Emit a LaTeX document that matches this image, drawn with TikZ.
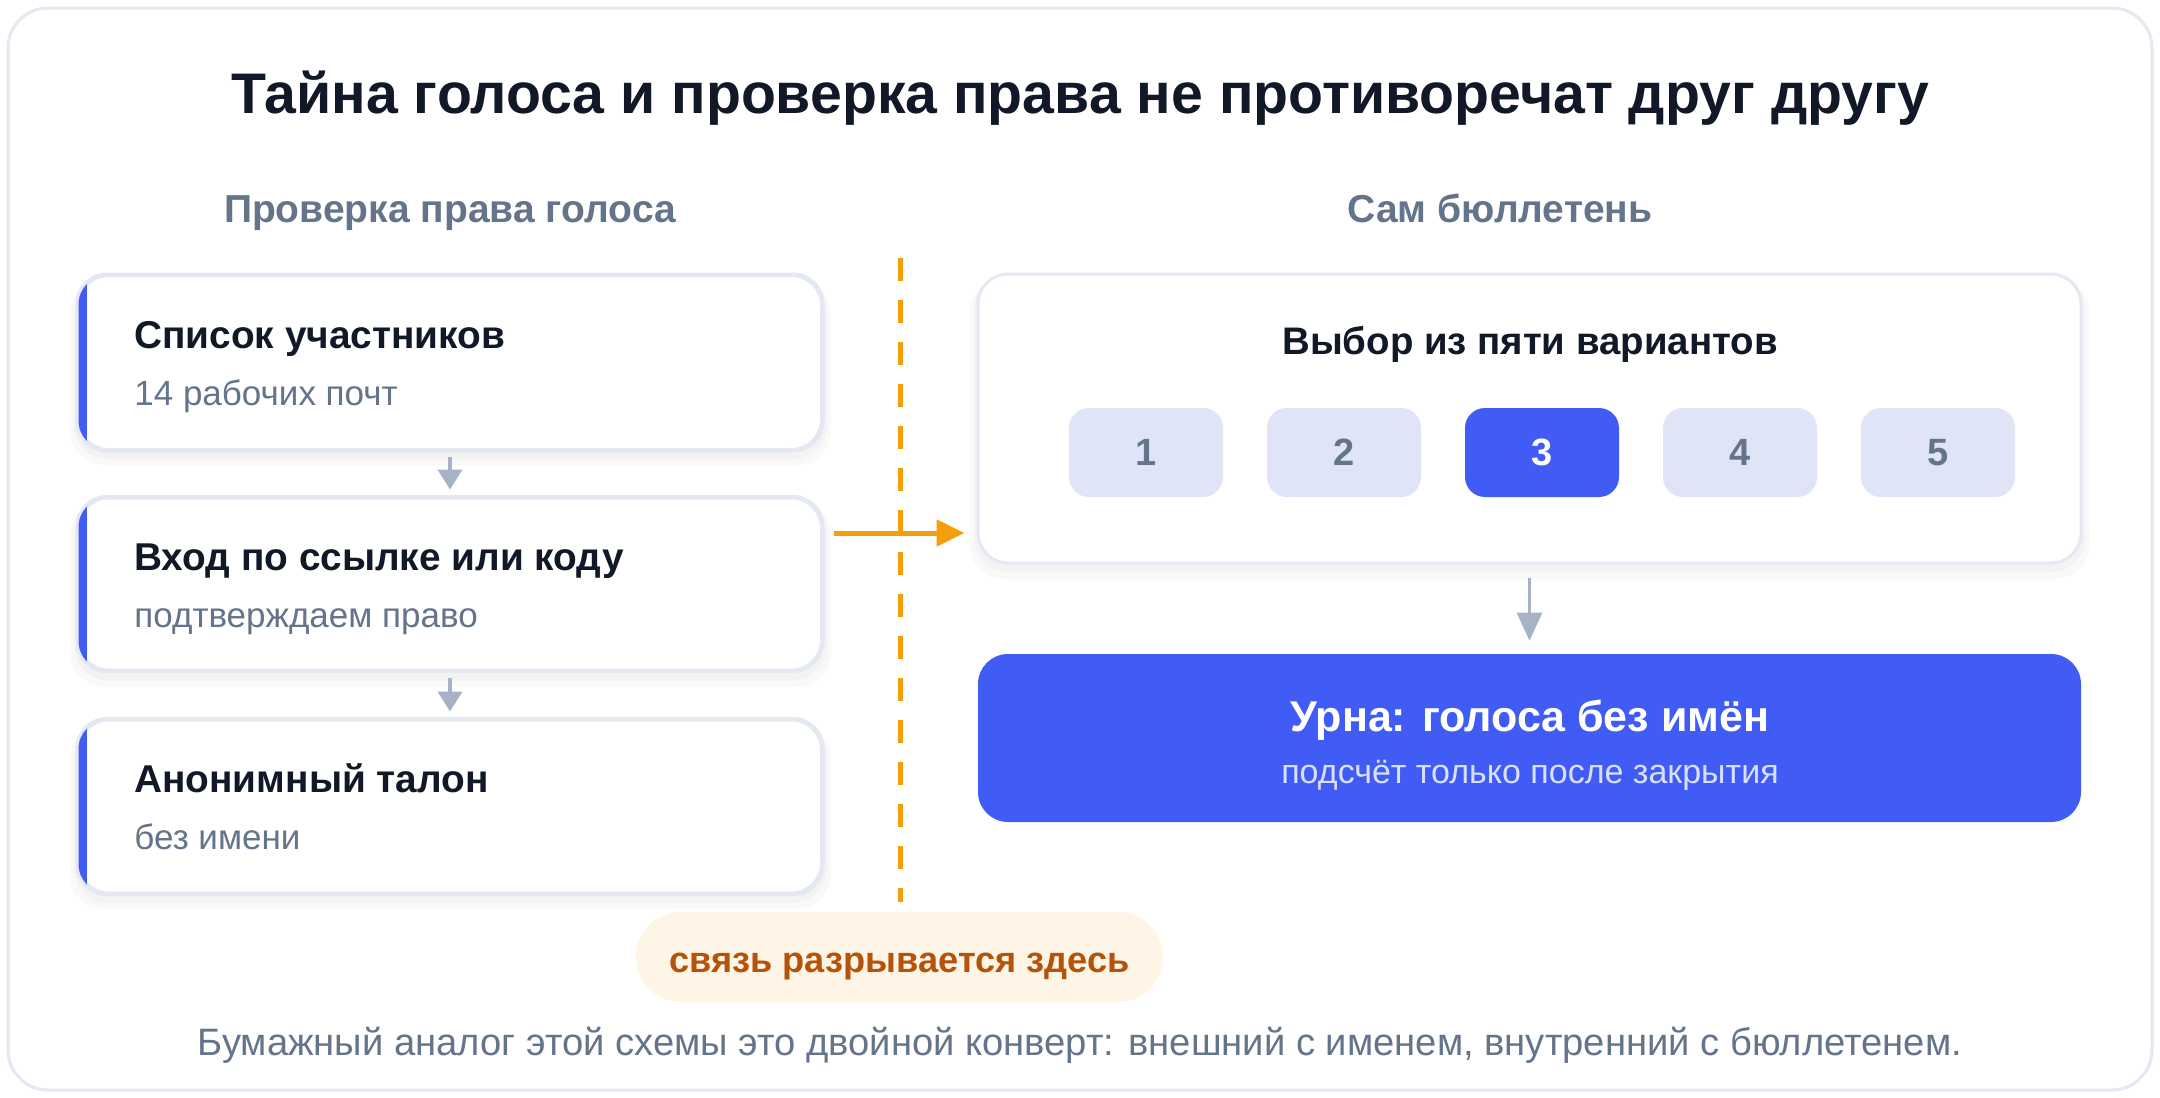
\documentclass[tikz,border=0pt]{standalone}
\usepackage{fontspec}
\setmainfont{Liberation Sans}
\usetikzlibrary{arrows.meta,calc}
\definecolor{ink}{HTML}{111827}
\definecolor{slate}{HTML}{64748B}
\definecolor{brd}{HTML}{E3E8F2}
\definecolor{accent}{HTML}{405CF5}
\definecolor{btnbg}{HTML}{DFE4F6}
\definecolor{amber}{HTML}{F59E0B}
\definecolor{pillbg}{HTML}{FEF5E6}
\definecolor{pilltx}{HTML}{B45309}
\definecolor{arrgray}{HTML}{A7B2C7}
\definecolor{urnsub}{HTML}{D9DFFF}
\tikzset{
  card/.style={draw=brd, line width=1.5pt, fill=white, rounded corners=15pt, inner sep=0pt},
  cardtitle/.style={anchor=base west, inner sep=0pt, text=ink, font=\fontsize{19.4}{23}\selectfont\bfseries},
  cardsub/.style={anchor=base west, inner sep=0pt, text=slate, font=\fontsize{17.5}{21}\selectfont},
  heading/.style={anchor=base, inner sep=0pt, text=slate, font=\fontsize{19.5}{23}\selectfont\bfseries},
  btn/.style={fill=btnbg, rounded corners=10pt, minimum width=77pt, minimum height=44.5pt, inner sep=0pt, text=slate, font=\fontsize{19}{22}\selectfont\bfseries},
  btnsel/.style={btn, fill=accent, text=white},
  grayarrow/.style={draw=arrgray, line width=2pt, -{Triangle[length=10pt,width=12pt]}},
  orangearrow/.style={draw=amber, line width=2.5pt, -{Triangle[length=14pt,width=13pt]}},
  shadowfill/.style={fill=black, opacity=0.022, rounded corners=17pt},
}
\begin{document}
\begin{tikzpicture}[x=0.5pt,y=-0.5pt]
\useasboundingbox (0,0) rectangle (2160,1098);
\fill[white] (0,0) rectangle (2160,1098);
% outer frame
\draw[brd, line width=1.5pt, fill=white, rounded corners=20pt] (8,8) rectangle (2152,1090);

% title
\node[anchor=base, inner sep=0pt, text=ink, font=\fontsize{28.6}{33}\selectfont\bfseries] (title) at (1080,113) {Тайна голоса и проверка права не противоречат друг другу};

% headings
\node[heading] (hleft) at (450,222) {Проверка права голоса};
\node[heading] (hright) at (1500,222) {Сам бюллетень};

% shadows
\foreach \cy/\h in {362.5/173, 584/173, 806.5/173} {
  \fill[shadowfill] (70,\cy-\h/2+4) rectangle (831,\cy+\h/2+16);
  \fill[shadowfill] (74,\cy-\h/2+2) rectangle (827,\cy+\h/2+10);
}
\fill[shadowfill] (970,278) rectangle (2089,579);
\fill[shadowfill] (974,276) rectangle (2085,572);

% left cards
\node[card, minimum width=371.5pt, minimum height=87pt] (c1) at (450,362.5) {};
\node[card, minimum width=371.5pt, minimum height=86pt] (c2) at (450,584) {};
\node[card, minimum width=371.5pt, minimum height=86.5pt] (c3) at (450,806.5) {};
\foreach \c in {c1,c2,c3} {
  \begin{scope}
    \clip[rounded corners=15pt] (\c.south west) rectangle (\c.north east);
    \fill[accent] (\c.south west) rectangle ([xshift=5pt]\c.north west);
  \end{scope}
  \draw[brd, line width=1.5pt, rounded corners=15pt] (\c.south west) rectangle (\c.north east);
  \fill[accent] ([xshift=0.75pt,yshift=-15pt]\c.north west) rectangle ([xshift=5pt,yshift=15pt]\c.south west);
}
\node[cardtitle] (c1t) at (134,348) {Список участников};
\node[cardsub] (c1s) at (134,405) {14 рабочих почт};
\node[cardtitle] (c2t) at (134,570) {Вход по ссылке или коду};
\node[cardsub] (c2s) at (134,627) {подтверждаем право};
\node[cardtitle] (c3t) at (134,792) {Анонимный талон};
\node[cardsub] (c3s) at (134,849) {без имени};

\draw[grayarrow] ([yshift=-3pt]c1.south) -- ([yshift=3.5pt]c2.north);
\draw[grayarrow] ([yshift=-3pt]c2.south) -- ([yshift=3.5pt]c3.north);

% dashed divider
\coordinate (dtop) at (900,258);
\coordinate (dbot) at (900,902);
\draw[amber, line width=2.5pt, dash pattern=on 11.5pt off 9.5pt] (dtop) -- (dbot);

% right card
\node[card, minimum width=551.5pt, minimum height=144.5pt] (rc) at (1529.5,418.5) {};
\node[anchor=base, inner sep=0pt, text=ink, font=\fontsize{19.2}{23}\selectfont\bfseries] (rct) at (1530,354) {Выбор из пяти вариантов};
\node[btn] (b1) at (1146,452.5) {1};
\node[btn] (b2) at (1344,452.5) {2};
\node[btnsel] (b3) at (1542,452.5) {3};
\node[btn] (b4) at (1740,452.5) {4};
\node[btn] (b5) at (1938,452.5) {5};

% orange arrow
\coordinate (oa1) at ([xshift=5.5pt,yshift=25.5pt]c2.east);
\draw[orangearrow] (oa1) -- ([xshift=-6pt]rc.west |- oa1);

% urn
\node[fill=accent, rounded corners=15pt, minimum width=551.5pt, minimum height=84pt, inner sep=0pt] (urn) at (1529.5,738) {};
\node[anchor=base, inner sep=0pt, text=white, font=\fontsize{21.5}{25}\selectfont\bfseries] (urnt) at (1530,731) {Урна: голоса без имён};
\node[anchor=base, inner sep=0pt, text=urnsub, font=\fontsize{17}{20}\selectfont] (urns) at (1530,783) {подсчёт только после закрытия};
\draw[draw=arrgray, line width=1.5pt, -{Triangle[length=14pt,width=12.5pt]}] ([yshift=-6.5pt]rc.south) -- ([yshift=6.5pt]urn.north);

% pill
\node[fill=pillbg, rounded corners=22.5pt, minimum width=263.5pt, minimum height=45pt, inner sep=0pt] (pill) at (899.5,957) {};
\node[anchor=base, inner sep=0pt, text=pilltx, font=\fontsize{18.1}{21}\selectfont\bfseries] (pillt) at (899.5,972) {связь разрывается здесь};

% footer
\node[anchor=base, inner sep=0pt, text=slate, font=\fontsize{19.1}{23}\selectfont] (foot) at (1080,1055) {Бумажный аналог этой схемы это двойной конверт: внешний с именем, внутренний с бюллетенем.};
\end{tikzpicture}
\end{document}
